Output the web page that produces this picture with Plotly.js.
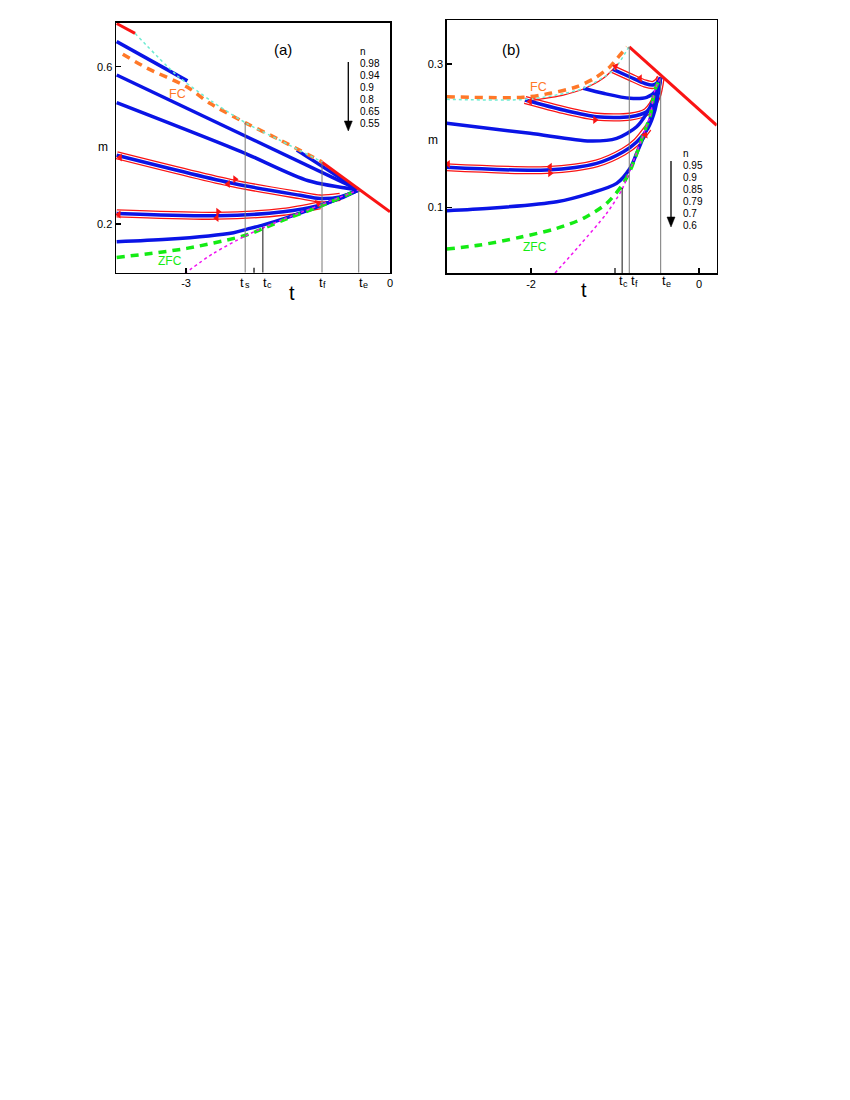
<!DOCTYPE html>
<html><head><meta charset="utf-8">
<script src="https://cdn.plot.ly/plotly-3.0.1.min.js"></script>
<style>html,body{margin:0;padding:0;background:#fff}#chart{width:850px;height:1100px}</style>
</head><body><div id="chart"></div>
<script>
// ================= Panel (a) data =================
const aTopRedT = [-4.02, -3.75];
const aTopRedM = [0.710, 0.685];
const aEqRedT = [-1.0, 0.0];
const aEqRedM = [0.357, 0.231];
const aCyanT = [-3.75, -3.14, -2.62, -2.11, -1.62, -1.0];
const aCyanM = [0.685, 0.579, 0.512, 0.456, 0.413, 0.358];
const aFcT = [-3.93, -3.58, -2.99, -2.65, -2.11, -1.62, -1.0];
const aFcM = [0.632, 0.597, 0.549, 0.507, 0.456, 0.414, 0.358];
const aN098T1 = [-4.02, -2.98];
const aN098M1 = [0.664, 0.564];
const aN098T2 = [-1.37, -0.46];
const aN098M2 = [0.388, 0.287];
const aN094T = [-4.02, -0.46];
const aN094M = [0.579, 0.287];
const aN090T = [-4.02, -2.2, -1.2, -0.46];
const aN090M = [0.509, 0.385, 0.31, 0.287];
const aN080T = [-4.02, -2.30, -1.32, -1.03, -0.735, -0.46];
const aN080M = [0.375, 0.303, 0.273, 0.265, 0.269, 0.287];
const aN065T = [-4.02, -2.55, -1.57, -1.03, -0.735, -0.46];
const aN065M = [0.227, 0.221, 0.231, 0.248, 0.265, 0.287];
const aN055T = [-4.02, -3.28, -2.30, -2.10, -1.86, -1.57, -1.03, -0.46];
const aN055M = [0.155, 0.161, 0.178, 0.187, 0.198, 0.213, 0.246, 0.287];
const aZfcT = [-4.02, -2.99, -2.11, -1.87, -1.57, -1.03, -0.46];
const aZfcM = [0.115, 0.138, 0.172, 0.188, 0.210, 0.245, 0.287];
const aMagT = [-3.02, -2.6, -2.1, -1.6, -1.0, -0.46];
const aMagM = [0.074, 0.125, 0.172, 0.21, 0.25, 0.287];
const aVlineT = [-2.13, -1.87, -1.0, -0.46];
const aVlineM = [0.459, 0.1915, 0.358, 0.287];
const aArrowT = [-2.279, -2.382, -3.97, -2.529, -2.549, -3.99, -1.059];
const aArrowM = [0.3137, 0.3018, 0.3691, 0.2313, 0.2153, 0.2242, 0.2535];
const aArrowDir = [0, 180, 180, 0, 180, 180, -25];
const aTickVals = [-3, 0];
const aTickText = ['-3', '0'];
const aMinorTicks = [-2];
const aYTickVals = [0.2, 0.6];
const aNLabels = ['n', '0.98', '0.94', '0.9', '0.8', '0.65', '0.55'];
const aTLabelSub = ['s', 'c', 'f', 'e'];

// ================= Panel (b) data =================
const bEqRedT = [-0.83, 0.211];
const bEqRedM = [0.324, 0.2145];
const bCyanT = [-3.004, -2.051, -1.6, -1.377, -1.02, -0.83];
const bCyanM = [0.2507, 0.2507, 0.259, 0.2661, 0.2916, 0.3251];
const bFcT = [-3.004, -2.092, -1.774, -1.456, -1.238, -1.06, -0.94, -0.857];
const bFcM = [0.2544, 0.2535, 0.2591, 0.2683, 0.2805, 0.2962, 0.3126, 0.3237];
const bRfcT = [-2.012, -1.615, -1.377, -1.139, -1.012];
const bRfcM = [0.2488, 0.2567, 0.2651, 0.280, 0.294];
const bN095T = [-1.024, -0.821, -0.643, -0.548, -0.488, -0.456];
const bN095M = [0.2926, 0.2819, 0.2728, 0.2707, 0.2749, 0.281];
const bN090T = [-1.377, -1.139, -0.821, -0.623, -0.504, -0.456];
const bN090M = [0.2661, 0.2591, 0.2521, 0.2535, 0.2637, 0.281];
const bN085T = [-2.071, -1.615, -1.218, -0.821, -0.623, -0.504, -0.456];
const bN085M = [0.2498, 0.2358, 0.2265, 0.2265, 0.2334, 0.2544, 0.281];
const bN079T = [-3.004, -2.012, -1.298, -0.98, -0.742, -0.623, -0.544, -0.456];
const bN079M = [0.2173, 0.2033, 0.1926, 0.1963, 0.2125, 0.2312, 0.2498, 0.281];
const bN070T = [-3.004, -1.814, -1.218, -0.9, -0.742, -0.607, -0.524, -0.456];
const bN070M = [0.1559, 0.1521, 0.1614, 0.1776, 0.1912, 0.2107, 0.2358, 0.281];
const bN060T = [-3.004, -2.488, -1.694, -1.298, -0.98, -0.821, -0.742, -0.62, -0.54, -0.456];
const bN060M = [0.0953, 0.0987, 0.1079, 0.1196, 0.1335, 0.1545, 0.1754, 0.21, 0.24, 0.281];
const bZfcT = [-3.004, -2.607, -2.131, -1.694, -1.377, -1.099, -0.9, -0.8, -0.643, -0.583, -0.524, -0.456];
const bZfcM = [0.0418, 0.0474, 0.0582, 0.0707, 0.0847, 0.1056, 0.1335, 0.1567, 0.2079, 0.2265, 0.2642, 0.281];
const bMagT = [-1.714, -1.417, -1.099, -0.92, -0.821, -0.643, -0.583, -0.524, -0.456];
const bMagM = [0.0084, 0.0475, 0.0917, 0.1242, 0.1521, 0.2079, 0.2265, 0.2642, 0.281];
const bVlineT = [-0.915, -0.83, -0.456];
const bVlineM = [0.127, 0.324, 0.281];
const bArrowT = [-0.702, -0.994, -2.012, -1.238, -1.774, -1.774, -2.988, -0.643];
const bArrowM = [0.280, 0.2965, 0.2477, 0.222, 0.1565, 0.1475, 0.1605, 0.2009];
const bArrowDir = [180, 200, 180, 0, 180, 0, 180, -60];
const bTickVals = [-2, 0];
const bTickText = ['-2', '0'];
const bMinorTicks = [-1];
const bYTickVals = [0.1, 0.3];
const bNLabels = ['n', '0.95', '0.9', '0.85', '0.79', '0.7', '0.6'];
const bTLabelSub = ['c', 'f', 'e'];

// ================= styles =================
const BLUE = 'rgb(10,20,230)';
const RED = 'rgb(250,20,20)';
const ORANGE = 'rgb(255,120,40)';
const GREEN = 'rgb(20,235,20)';
const CYAN = 'rgb(110,235,210)';
const MAG = 'rgb(240,20,240)';
const FONT = 'Liberation Sans, Arial, sans-serif';

const traces = [];
function line(t, m, ax, color, width, dash, shape) {
  traces.push({x: t, y: m, xaxis: ax[0], yaxis: ax[1], type: 'scatter', mode: 'lines',
    line: {color: color, width: width, dash: dash || 'solid', shape: shape || 'linear', smoothing: 0.8},
    hoverinfo: 'skip', showlegend: false});
}
function loop(t, m, ax) {
  line(t, m, ax, RED, 8.2, 'solid', 'spline');
  line(t, m, ax, 'white', 5.6, 'solid', 'spline');
}
function arrows(t, m, dir, ax) {
  traces.push({x: t, y: m, xaxis: ax[0], yaxis: ax[1], type: 'scatter', mode: 'markers',
    marker: {symbol: 'triangle-right', size: 7, color: RED, angle: dir}, hoverinfo: 'skip', showlegend: false});
}
const A = ['x', 'y'], B = ['x2', 'y2'];

// ---- panel a ----
loop(aN080T.slice(0, 5), aN080M.slice(0, 5), A);
loop(aN065T.slice(0, 4), aN065M.slice(0, 4), A);
line(aN098T1, aN098M1, A, BLUE, 3.5);
line(aN098T2, aN098M2, A, BLUE, 3.5);
line(aN094T, aN094M, A, BLUE, 3.5);
line(aN090T, aN090M, A, BLUE, 3.5, 'solid', 'spline');
line(aN080T, aN080M, A, BLUE, 3.5, 'solid', 'spline');
line(aN065T, aN065M, A, BLUE, 3.5, 'solid', 'spline');
line(aN055T, aN055M, A, BLUE, 3.5, 'solid', 'spline');
line(aZfcT, aZfcM, A, GREEN, 3.5, '8px,6px', 'spline');
line(aMagT, aMagM, A, MAG, 1.5, 'dot', 'spline');
line(aFcT, aFcM, A, ORANGE, 3.5, '8px,6px', 'spline');
line(aCyanT, aCyanM, A, CYAN, 1.5, 'dot', 'spline');
line(aTopRedT, aTopRedM, A, RED, 3);
line(aEqRedT, aEqRedM, A, RED, 3);
arrows(aArrowT, aArrowM, aArrowDir, A);

// ---- panel b ----
loop(bN095T, bN095M, B);
loop(bN085T, bN085M, B);
loop(bN070T.slice(0, 6), bN070M.slice(0, 6), B);
line(bRfcT, bRfcM, B, RED, 1.3, 'solid', 'spline');
line(bN095T, bN095M, B, BLUE, 3.5, 'solid', 'spline');
line(bN090T, bN090M, B, BLUE, 3.5, 'solid', 'spline');
line(bN085T, bN085M, B, BLUE, 3.5, 'solid', 'spline');
line(bN079T, bN079M, B, BLUE, 3.5, 'solid', 'spline');
line(bN070T, bN070M, B, BLUE, 3.5, 'solid', 'spline');
line(bN060T, bN060M, B, BLUE, 3.5, 'solid', 'spline');
line(bZfcT, bZfcM, B, GREEN, 3.5, '8px,6px', 'spline');
line(bMagT, bMagM, B, MAG, 1.5, 'dot', 'spline');
line(bFcT, bFcM, B, ORANGE, 3.5, '8px,6px', 'spline');
line(bCyanT, bCyanM, B, CYAN, 1.5, 'dot', 'spline');
line(bEqRedT, bEqRedM, B, RED, 3);
arrows(bArrowT, bArrowM, bArrowDir, B);

// ---- helpers for page coordinates ----
const PX = p => p / 850, PY = p => 1 - p / 1100;

// ---- vertical marker lines, extra tick marks, legend arrows ----
const shapes = [];
aVlineT.forEach((t, i) => shapes.push({type: 'line', xref: 'x', yref: 'y', x0: t, x1: t, y0: aVlineM[i], y1: 0.0762,
  line: {color: i === 1 ? '#111' : '#777', width: 1}}));
bVlineT.forEach((t, i) => shapes.push({type: 'line', xref: 'x2', yref: 'y2', x0: t, x1: t, y0: bVlineM[i], y1: 0.0084,
  line: {color: i === 0 ? '#111' : '#777', width: 1}}));
aMinorTicks.forEach(t => shapes.push({type: 'line', xref: 'x', yref: 'paper', x0: t, x1: t, y0: PY(272.7), y1: PY(267.7),
  line: {color: 'black', width: 1.2}}));
bMinorTicks.forEach(t => shapes.push({type: 'line', xref: 'x2', yref: 'paper', x0: t, x1: t, y0: PY(273), y1: PY(268),
  line: {color: 'black', width: 1.2}}));
function legendArrow(x, yTop, yTip) {
  shapes.push({type: 'line', xref: 'paper', yref: 'paper', x0: PX(x), x1: PX(x), y0: PY(yTop), y1: PY(yTip - 8),
    line: {color: 'black', width: 1.3}});
  shapes.push({type: 'path', xref: 'paper', yref: 'paper',
    path: `M ${PX(x - 4)} ${PY(yTip - 10)} L ${PX(x + 4)} ${PY(yTip - 10)} L ${PX(x)} ${PY(yTip)} Z`,
    fillcolor: 'black', line: {color: 'black', width: 0.5}});
}
legendArrow(348.3, 62, 131);
legendArrow(671, 161, 227);

// ---- annotations ----
const ann = [];
function txt(x, y, text, size, color, xanchor) {
  ann.push({xref: 'paper', yref: 'paper', x: PX(x), y: PY(y), text: text, showarrow: false,
    xanchor: xanchor || 'center', yanchor: 'middle', font: {family: FONT, size: size, color: color || 'black'}});
}
function tLabel(cx, y, sub) {
  txt(cx + 2.2, y, 't', 13, 'black', 'right');
  txt(cx - 1.6, y + 2.8, sub, 9, 'black', 'left');
}
txt(283, 49, '(a)', 15);
txt(511, 50, '(b)', 15);
txt(177, 94, 'FC', 12.5, ORANGE);
txt(170, 261, 'ZFC', 12, GREEN);
txt(538, 87, 'FC', 12.5, ORANGE);
txt(535, 247, 'ZFC', 12, GREEN);
txt(292, 293, 't', 20);
txt(584, 290, 't', 20);
txt(103, 147, 'm', 12);
txt(433, 140, 'm', 12);
const aTLabelX = [244.3, 266.3, 322.3, 362.3];
const bTLabelX = [622.3, 634.5, 665.3];
aTLabelSub.forEach((s, i) => tLabel(aTLabelX[i], 282, s));
bTLabelSub.forEach((s, i) => tLabel(bTLabelX[i], 281, s));
aNLabels.forEach((s, i) => txt(358, 51.7 + i * 11.95, s, 10, 'black', 'left'));
bNLabels.forEach((s, i) => txt(680.5, 153.3 + i * 12.1, s, 10, 'black', 'left'));

const axBase = {showline: true, mirror: true, linecolor: 'black', linewidth: 1.5, showgrid: false, zeroline: false,
  ticks: 'inside', ticklen: 5, tickwidth: 1.2, tickcolor: 'black', tickfont: {family: FONT, size: 11, color: 'black'},
  tickmode: 'array'};

const layout = {
  width: 850, height: 1100, margin: {l: 0, r: 0, t: 0, b: 0}, paper_bgcolor: 'white', plot_bgcolor: 'white',
  showlegend: false,
  xaxis: Object.assign({}, axBase, {domain: [PX(116), PX(390)], range: [-4.03, 0], anchor: 'y',
    tickvals: aTickVals, ticktext: aTickText}),
  yaxis: Object.assign({}, axBase, {domain: [PY(272.7), PY(22.7)], range: [0.0762, 0.712], anchor: 'x',
    tickvals: aYTickVals, ticktext: aYTickVals.map(String)}),
  xaxis2: Object.assign({}, axBase, {domain: [PX(446.7), PX(716.7)], range: [-3.004, 0.211], anchor: 'y2',
    tickvals: bTickVals, ticktext: bTickText}),
  yaxis2: Object.assign({}, axBase, {domain: [PY(273), PY(20)], range: [0.0084, 0.3614], anchor: 'x2',
    tickvals: bYTickVals, ticktext: bYTickVals.map(String)}),
  shapes: shapes, annotations: ann
};
Plotly.newPlot('chart', traces, layout, {displayModeBar: false, staticPlot: true});
</script></body></html>
